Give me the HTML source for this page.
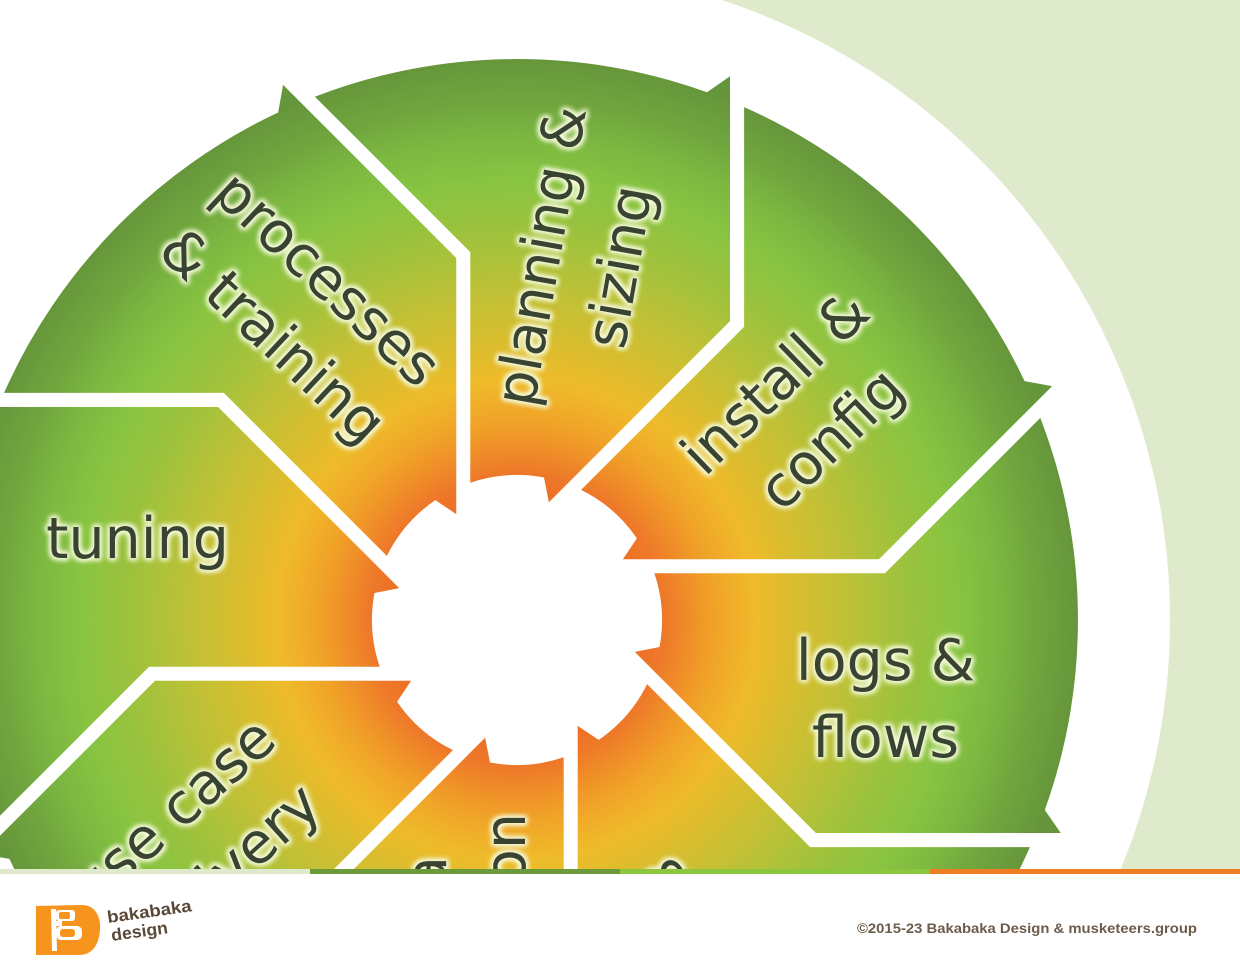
<!DOCTYPE html>
<html>
<head>
<meta charset="utf-8">
<style>
  html, body { margin: 0; padding: 0; background: #ffffff; }
  body { width: 1240px; height: 980px; overflow: hidden; }
  svg { display: block; }
</style>
</head>
<body>
<svg width="1240" height="980" viewBox="0 0 1240 980" xmlns="http://www.w3.org/2000/svg">
  <defs>
    <radialGradient id="wg" gradientUnits="userSpaceOnUse" cx="517" cy="620" r="561">
      <stop offset="0.20" stop-color="#ec6c24"/>
      <stop offset="0.262" stop-color="#ee7829"/>
      <stop offset="0.303" stop-color="#ef8c28"/>
      <stop offset="0.357" stop-color="#f0a428"/>
      <stop offset="0.428" stop-color="#efbb2a"/>
      <stop offset="0.499" stop-color="#d8bd2e"/>
      <stop offset="0.570" stop-color="#c4c035"/>
      <stop offset="0.642" stop-color="#adc23a"/>
      <stop offset="0.713" stop-color="#98c23e"/>
      <stop offset="0.784" stop-color="#88c441"/>
      <stop offset="0.856" stop-color="#7db841"/>
      <stop offset="0.922" stop-color="#70a63e"/>
      <stop offset="1" stop-color="#66963b"/>
    </radialGradient>
    <filter id="glow" x="-10%" y="-10%" width="120%" height="120%" color-interpolation-filters="sRGB">
      <feMorphology in="SourceAlpha" operator="dilate" radius="1.5" result="d"/>
      <feGaussianBlur in="d" stdDeviation="2.6" result="b"/>
      <feFlood flood-color="#f4f9d8"/>
      <feComposite in2="b" operator="in" result="g"/>
      <feMerge>
        <feMergeNode in="g"/>
        <feMergeNode in="g"/>
        <feMergeNode in="SourceGraphic"/>
      </feMerge>
    </filter>
    <path id="seg" d="M470.3,482.7 L470.3,252.1 L314.9,96.7 A561,561 0 0 1 707,92.2 L730,76.2 L730,321.1 L548.9,502.2 L544,477.5 A145,145 0 0 0 470.3,482.7 Z"/>
  </defs>

  <!-- light green background (right half minus big white circle) -->
  <path d="M722,0 L1240,0 L1240,869 L1120.7,869 A653,653 0 0 0 722,0 Z" fill="#dfeacc"/>

  <!-- wheel segments -->
  <g fill="url(#wg)">
    <!-- planning -->
    <use href="#seg"/>
    <!-- install -->
    <use href="#seg" transform="rotate(45 517 620)"/>
    <!-- logs -->
    <use href="#seg" transform="rotate(90 517 620)"/>
    <!-- processes -->
    <use href="#seg" transform="rotate(315 517 620)"/>
    <!-- lower-right segment (clipped) -->
    <path d="M647.1,684.1 L810.2,847.1 L1029.9,847.1 A561,561 0 0 1 1019.7,869 L577.7,869 L577.7,725.9 L598.7,739.9 A145,145 0 0 0 647.1,684.1 Z"/>
    <!-- bottom segment (clipped) -->
    <path d="M563.7,757.3 L563.7,869 L353.9,869 L485.1,737.8 L490,762.5 A145,145 0 0 0 563.7,757.3 Z"/>
    <!-- use case (clipped) -->
    <path d="M452.9,750.1 L334.1,869 L14.3,869 A561,561 0 0 1 9.4,858.9 L0,857.2 L0,835.8 L155,680.7 L411.1,680.7 L397.1,701.7 A145,145 0 0 0 452.9,750.1 Z"/>
    <!-- tuning (clipped) -->
    <path d="M379.7,666.7 L149.1,666.7 L0,815.8 L0,407 L218.1,407 L399.2,588.1 L374.5,593 A145,145 0 0 0 379.7,666.7 Z"/>
  </g>

  <!-- labels -->
  <g filter="url(#glow)" font-family="'DejaVu Sans', 'Liberation Sans', sans-serif" font-size="57" fill="#394331">
    <text x="137.5" y="558" text-anchor="middle">tuning</text>
    <text x="885.5" y="680" text-anchor="middle">logs &amp;</text>
    <text x="885.5" y="757" text-anchor="middle">flows</text>
    <text x="560" y="259" text-anchor="middle" textLength="303" lengthAdjust="spacingAndGlyphs" transform="rotate(-80 560 259)">planning &amp;</text>
    <text x="638.5" y="270" text-anchor="middle" transform="rotate(-80 638.5 270)">sizing</text>
    <text x="788.6" y="396.7" text-anchor="middle" transform="rotate(-44 788.6 396.7)">install &amp;</text>
    <text x="844.5" y="452.8" text-anchor="middle" transform="rotate(-44 844.5 452.8)">config</text>
    <text x="314.1" y="293" text-anchor="middle" transform="rotate(43 314.1 293)">processes</text>
    <text x="259.5" y="350.2" text-anchor="middle" transform="rotate(43 259.5 350.2)">&amp; training</text>
    <text x="186.1" y="827" text-anchor="middle" transform="rotate(-42 186.1 827)">use case</text>
    <text x="239" y="885.7" text-anchor="middle" transform="rotate(-42 239 885.7)">delivery</text>
    <text x="446" y="856" text-anchor="end" transform="rotate(-90 446 856)">ta</text>
    <text x="525" y="813" text-anchor="end" transform="rotate(-90 525 813)">tion</text>
    <text x="635" y="880" transform="rotate(45 635 880)">&amp;</text>
  </g>

  <!-- white footer area covering anything below the bar -->
  <rect x="0" y="874" width="1240" height="106" fill="#ffffff"/>

  <!-- footer color bar -->
  <rect x="0" y="869" width="310" height="5" fill="#dfeacc"/>
  <rect x="310" y="869" width="310" height="5" fill="#6a9a3a"/>
  <rect x="620" y="869" width="310" height="5" fill="#8cc63f"/>
  <rect x="930" y="869" width="310" height="5" fill="#ee7d23"/>

  <!-- logo icon -->
  <g>
    <path d="M36,906 L82,905 C96,905 101,918 100,930 C99,945 92,955 79,955 L36,955 Z" fill="#f7941d"/>
    <polygon points="51,909 56,909 57,951 52,951" fill="#ffffff"/>
    <rect x="56" y="910" width="19" height="11" rx="3" fill="#ffffff"/>
    <rect x="56" y="926" width="26" height="14" rx="5" fill="#ffffff"/>
    <rect x="59" y="912" width="11" height="7" rx="2" fill="#f7941d"/>
    <rect x="60" y="929" width="15" height="8" rx="3" fill="#f7941d"/>
    <polygon points="56,921 62,921 62,926 56,926" fill="#ffffff"/>
  </g>
  <g transform="rotate(-8 108 923)" font-family="'Liberation Sans', sans-serif" font-weight="bold" fill="#5a4838">
    <text x="108" y="923" font-size="17" textLength="85" lengthAdjust="spacingAndGlyphs">bakabaka</text>
    <text x="109.5" y="941.4" font-size="17" textLength="57" lengthAdjust="spacingAndGlyphs">design</text>
  </g>

  <!-- copyright -->
  <text x="857" y="933" font-family="'Liberation Sans', sans-serif" font-weight="bold" font-size="14" fill="#6d5c4b" textLength="340" lengthAdjust="spacingAndGlyphs">©2015-23 Bakabaka Design &amp; musketeers.group</text>
</svg>
</body>
</html>
